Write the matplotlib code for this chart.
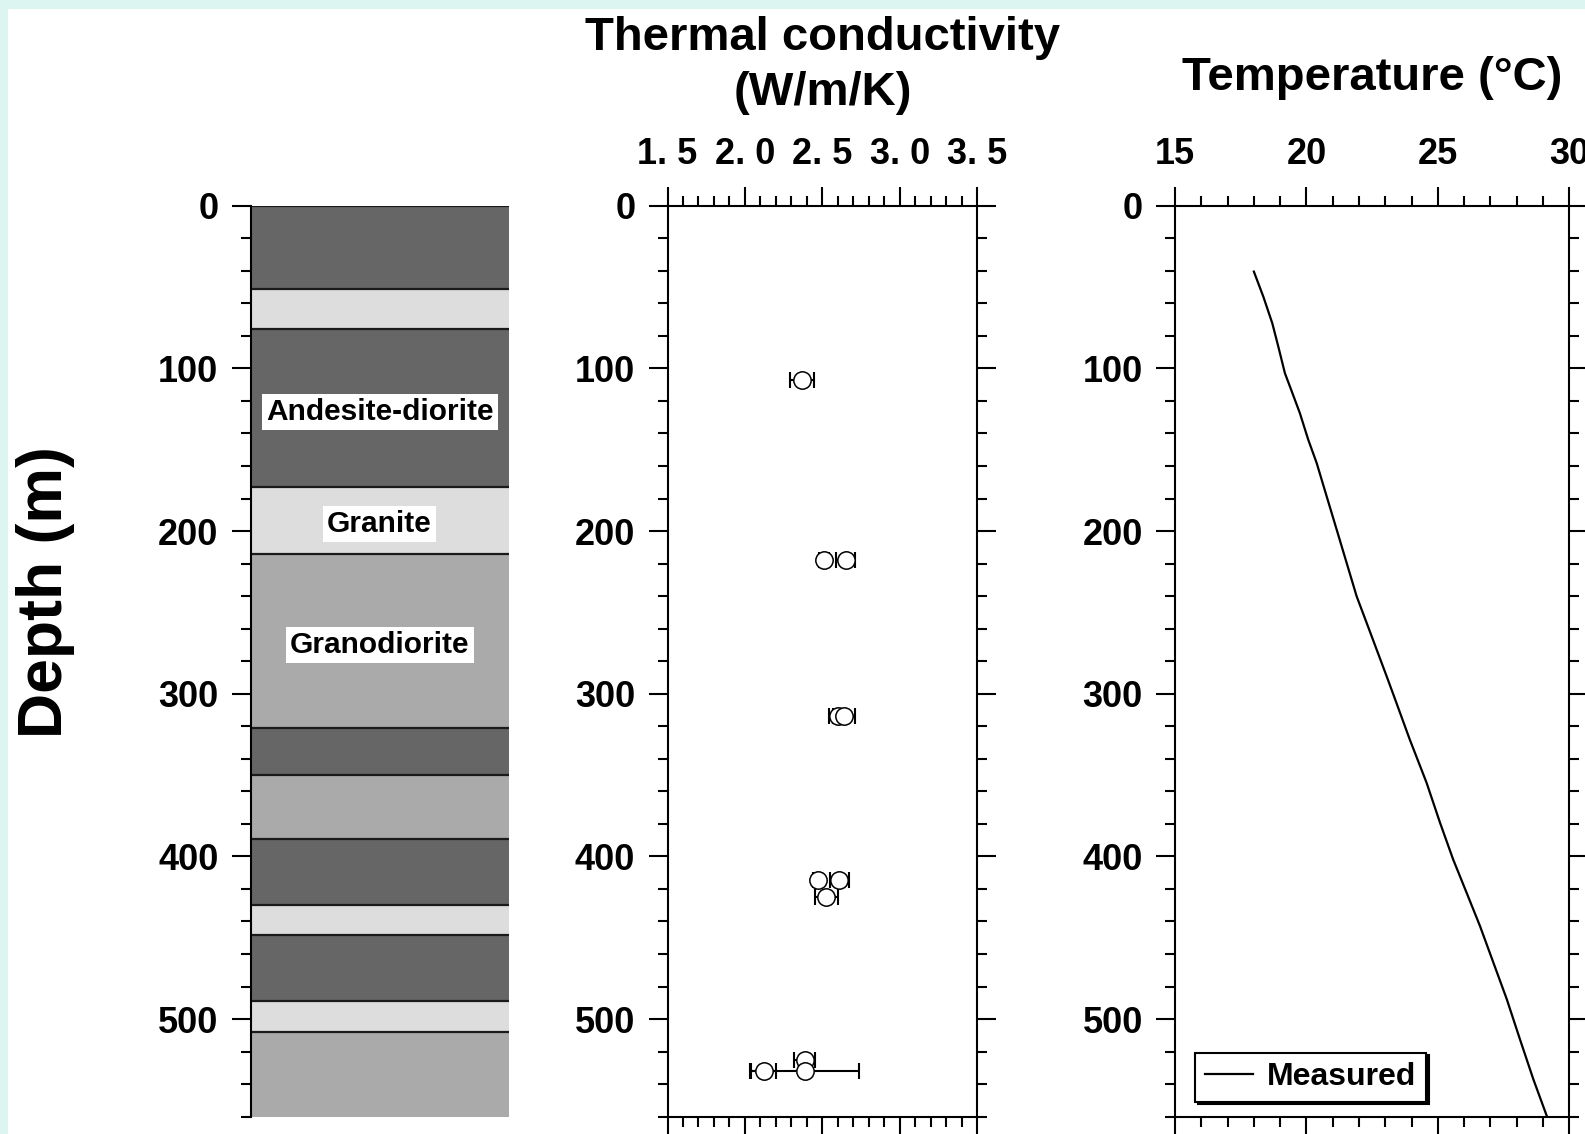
import matplotlib
matplotlib.use("Agg")
import matplotlib.pyplot as plt
from matplotlib.ticker import MultipleLocator, FuncFormatter, FixedLocator
from matplotlib.patches import Rectangle

plt.rcParams['font.family'] = ['Liberation Sans', 'DejaVu Sans']
plt.rcParams['font.weight'] = 'bold'

# ---------------- data ----------------
layer_tops = [0, 51, 76, 173, 214, 321, 350, 389, 430, 448, 489, 508]
layer_bottoms = [51, 76, 173, 214, 321, 350, 389, 430, 448, 489, 508, 560]
layer_rock = ['andesite', 'granite', 'andesite', 'granite', 'granodiorite', 'andesite',
              'granodiorite', 'andesite', 'granite', 'andesite', 'granite', 'granodiorite']
rock_colors = {'andesite': '#666666', 'granite': '#dddddd', 'granodiorite': '#aaaaaa'}
label_names = ['Andesite-diorite', 'Granite', 'Granodiorite']
label_depths = [127, 195.5, 270]

tc_depth = [107, 217.6, 217.6, 313.7, 313.7, 414.4, 414.4, 424.7, 525.2, 531.7, 531.7]
tc_value = [2.37, 2.51, 2.65, 2.60, 2.64, 2.47, 2.61, 2.525, 2.385, 2.12, 2.385]
tc_err = [0.077, 0.03, 0.06, 0.06, 0.07, 0.03, 0.06, 0.075, 0.07, 0.08, 0.353]

temp_depth = [40.5, 55.9, 72.2, 86.6, 102.9, 113.2, 127.5, 143.9, 158.2, 178.7, 199.1, 219.6,
              240.1, 256.4, 272.8, 289.2, 301.5, 328.1, 354.7, 379.2, 401.8, 422.2, 442.7,
              465.2, 487.7, 512.3, 536.9, 559.4]
temp_value = [18.00, 18.36, 18.70, 18.93, 19.18, 19.42, 19.75, 20.07, 20.39, 20.77, 21.15, 21.53,
              21.91, 22.29, 22.67, 23.05, 23.33, 23.93, 24.57, 25.08, 25.58, 26.09, 26.60,
              27.11, 27.62, 28.12, 28.63, 29.14]

depth_ticks = [0, 100, 200, 300, 400, 500]

# ---------------- figure ----------------
W, H = 1585, 1134
fig = plt.figure(figsize=(W / 100, H / 100), dpi=100, facecolor='#ddf5f1')
fig.patches.append(Rectangle((8 / W, 0), 1, 1 - 9 / H, transform=fig.transFigure,
                             facecolor='white', edgecolor='none', zorder=-10))


def fbox(x0, x1, ytop, ybot):
    return [x0 / W, 1 - ybot / H, (x1 - x0) / W, (ybot - ytop) / H]


TOP, BOT = 205.7, 1116.7
ax1 = fig.add_axes(fbox(250.7, 508.5, TOP, BOT))
ax2 = fig.add_axes(fbox(667.5, 977.3, TOP, BOT))
ax3 = fig.add_axes(fbox(1175, 1569.3, TOP, BOT))

MAJL, MINL, TW, FS = 13.7, 7.2, 1.5, 26


def depth_axis(ax):
    ax.set_ylim(560, 0)
    ax.yaxis.set_major_locator(FixedLocator(depth_ticks))
    ax.yaxis.set_minor_locator(MultipleLocator(20))
    ax.tick_params(axis='y', which='major', direction='out', length=MAJL, width=TW,
                   labelsize=FS, pad=9.5)
    ax.tick_params(axis='y', which='minor', direction='out', length=MINL, width=TW)
    for lab in ax.get_yticklabels():
        lab.set_fontweight('bold')


# ---- panel 1: lithology ----
thick = [b - t for t, b in zip(layer_tops, layer_bottoms)]
ax1.barh(layer_tops, 1, height=thick, left=0, align='edge',
         color=[rock_colors[r] for r in layer_rock], edgecolor='none', zorder=1)
ax1.hlines(layer_tops, 0, 1, colors='#1a1a1a', lw=1.6, zorder=2)
ax1.set_xlim(0, 1)
depth_axis(ax1)
ax1.set_xticks([])
for s in ['top', 'right', 'bottom']:
    ax1.spines[s].set_visible(False)
ax1.spines['left'].set_linewidth(TW)
ax1.patch.set_alpha(0)
for name, d in zip(label_names, label_depths):
    ax1.text(0.5, d, name, ha='center', va='center', fontsize=21.5, fontweight='bold',
             bbox=dict(facecolor='white', edgecolor='none', pad=3), zorder=3)

fig.text(45.5 / W, 1 - 592 / H, 'Depth (m)', rotation=90, ha='center', va='center',
         fontsize=45, fontweight='bold')


# ---- panel 2: thermal conductivity ----
def box_axis(ax):
    for s in ax.spines.values():
        s.set_linewidth(TW)
    ax.tick_params(axis='both', which='both', top=True, bottom=True, left=True, right=True,
                   labeltop=True, labelbottom=False, labelleft=True, labelright=False)
    ax.tick_params(axis='x', which='major', direction='out', length=MAJL, width=TW,
                   labelsize=FS, pad=10.5)
    ax.tick_params(axis='x', which='minor', direction='out', length=MINL, width=TW)
    depth_axis(ax)
    ax.tick_params(axis='y', which='both', right=True)


ax2.errorbar(tc_value, tc_depth, xerr=tc_err, fmt='none', ecolor='black', elinewidth=1.5,
             capsize=5.5, capthick=1.5, zorder=2)
ax2.plot(tc_value, tc_depth, 'o', ms=12.5, mfc='white', mec='black', mew=1.1, zorder=3)
ax2.set_xlim(1.5, 3.5)
ax2.xaxis.set_major_locator(MultipleLocator(0.5))
ax2.xaxis.set_minor_locator(MultipleLocator(0.1))
ax2.xaxis.set_major_formatter(FuncFormatter(lambda v, p: f"{v:.1f}".replace('.', '. ')))
box_axis(ax2)

# ---- panel 3: temperature ----
ax3.plot(temp_value, temp_depth, color='black', lw=1.6, label='Measured')
ax3.set_xlim(15, 30)
ax3.xaxis.set_major_locator(MultipleLocator(5))
ax3.xaxis.set_minor_locator(MultipleLocator(1))
box_axis(ax3)
leg = ax3.legend(loc='lower left', bbox_to_anchor=(0.0508, 0.0165), borderaxespad=0,
                 fancybox=False, shadow={'color': 'black', 'alpha': 1},
                 edgecolor='black', framealpha=1, handlelength=1.5, handletextpad=0.45,
                 borderpad=0.3, prop={'size': 23, 'weight': 'bold'})
leg.get_frame().set_linewidth(1.5)

for ax in (ax2, ax3):
    for lab in ax.get_xticklabels() + ax.get_yticklabels():
        lab.set_fontweight('bold')

# ---- titles ----
cx2 = (667.5 + 977.3) / 2 / W
cx3 = (1175 + 1569.3) / 2 / W
fig.text(cx2, 1 - 50 / H, 'Thermal conductivity', ha='center', va='baseline',
         fontsize=34, fontweight='bold')
fig.text(cx2, 1 - 105 / H, '(W/m/K)', ha='center', va='baseline', fontsize=34,
         fontweight='bold')
fig.text(cx3, 1 - 90 / H, 'Temperature (°C)', ha='center', va='baseline', fontsize=34,
         fontweight='bold')

fig.savefig('out.png', dpi=100, facecolor=fig.get_facecolor())
